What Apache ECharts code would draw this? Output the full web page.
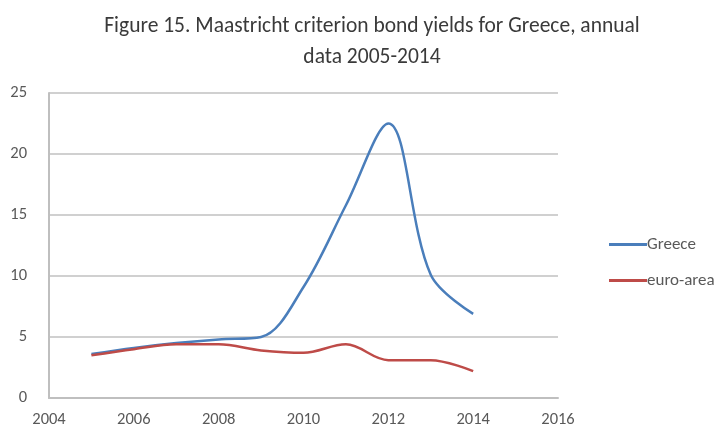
<!DOCTYPE html>
<html>
<head>
<meta charset="utf-8">
<script src="https://cdn.jsdelivr.net/npm/echarts@6/dist/echarts.min.js"></script>
<style>
html,body{margin:0;padding:0;background:#fff;}
#chart{width:716px;height:436px;}
</style>
</head>
<body>
<div id="chart"></div>
<script>
const years = [2005, 2006, 2007, 2008, 2009, 2010, 2011, 2012, 2013, 2014];
const greece = [3.6, 4.1, 4.5, 4.8, 5.0, 9.1, 15.8, 22.5, 10.1, 6.9];
const euroArea = [3.5, 4.0, 4.4, 4.4, 3.9, 3.7, 4.4, 3.1, 3.1, 2.2];
const xTicks = { min: 2004, max: 2016, interval: 2 };
const yTicks = { min: 0, max: 25, interval: 5 };

const fontFam = "Carlito, 'Liberation Sans Narrow', Lato, sans-serif";
const chart = echarts.init(document.getElementById('chart'), null, { renderer: 'canvas' });
chart.setOption({
  animation: false,
  backgroundColor: '#fff',
  title: {
    text: 'Figure 15. Maastricht criterion bond yields for Greece, annual\ndata 2005-2014',
    left: 367,
    textAlign: 'center',
    top: 6,
    textStyle: { fontFamily: fontFam, fontSize: 21.5, fontWeight: 'normal', color: '#3a3a3a', lineHeight: 31 }
  },
  legend: {
    orient: 'vertical',
    left: 604,
    top: 231,
    itemGap: 19,
    itemWidth: 38,
    itemHeight: 3,
    icon: 'rect',
    textStyle: { fontFamily: fontFam, fontSize: 17, color: '#595959', padding: [0,0,0,-5] },
    data: ['Greece', 'euro-area']
  },
  grid: { left: 49, right: 158, top: 93, bottom: 38 },
  xAxis: {
    type: 'value',
    min: xTicks.min, max: xTicks.max, interval: xTicks.interval,
    axisLine: { show: true, lineStyle: { color: '#bfbfbf', width: 2 } },
    axisTick: { show: false },
    splitLine: { show: false },
    axisLabel: { formatter: v => String(v), color: '#595959', fontFamily: fontFam, fontSize: 16.5, margin: 13 }
  },
  yAxis: {
    type: 'value',
    min: yTicks.min, max: yTicks.max, interval: yTicks.interval,
    axisLine: { show: true, lineStyle: { color: '#bfbfbf', width: 2 } },
    axisTick: { show: false },
    splitLine: { show: true, lineStyle: { color: '#d0d0d0', width: 2 } },
    axisLabel: { color: '#595959', fontFamily: fontFam, fontSize: 16.5, margin: 22 }
  },
  series: [
    {
      name: 'Greece', type: 'line', smooth: 0.35, symbol: 'none',
      data: years.map((y, i) => [y, greece[i]]),
      lineStyle: { color: '#4a7ebb', width: 2.5 },
      itemStyle: { color: '#4a7ebb' }
    },
    {
      name: 'euro-area', type: 'line', smooth: 0.35, symbol: 'none',
      data: years.map((y, i) => [y, euroArea[i]]),
      lineStyle: { color: '#be4b48', width: 2.5 },
      itemStyle: { color: '#be4b48' }
    }
  ]
});
</script>
</body>
</html>
